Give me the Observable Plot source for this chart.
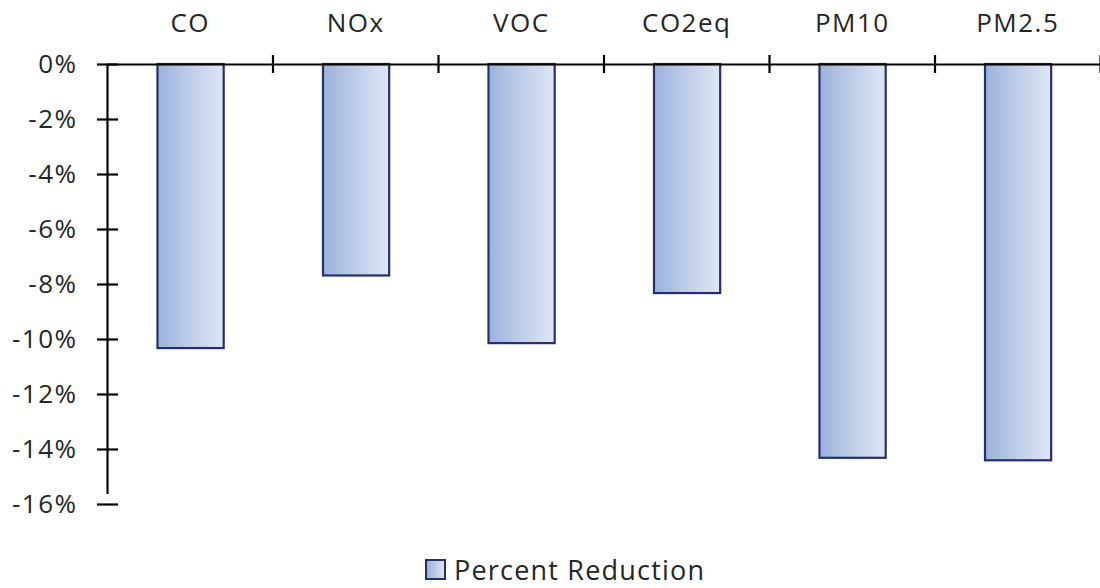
<!DOCTYPE html>
<html>
<head>
<meta charset="utf-8">
<script src="https://cdn.jsdelivr.net/npm/d3@7"></script>
<script src="https://cdn.jsdelivr.net/npm/@observablehq/plot@0.6"></script>
<style>
  html, body { margin: 0; padding: 0; background: #fff; }
  #wrap { width: 1100px; height: 588px; overflow: hidden; position: relative; font-family: "Open Sans", sans-serif; }
  #legend { position: absolute; left: 425px; top: 551px; display: flex; align-items: center; color: #262626; font-size: 27px; letter-spacing: 1.2px; }
  #legend .sw { width: 17px; height: 17px; border: 2px solid #262f6b; background: linear-gradient(to right, #9bb3dd, #dde5f4); margin-right: 8px; }
</style>
</head>
<body>
<div id="wrap">
  <div id="chart"></div>
  <div id="legend"><div class="sw"></div><span>Percent Reduction</span></div>
</div>
<script>
const categories = ["CO", "NOx", "VOC", "CO2eq", "PM10", "PM2.5"];
const values = [-10.33, -7.69, -10.15, -8.33, -14.32, -14.41];
const yTicks = [0, -2, -4, -6, -8, -10, -12, -14, -16];
const seriesName = "Percent Reduction";

const data = categories.map((c, i) => ({cat: c, i, value: values[i]}));
const boundaries = d3.range(0, categories.length + 1);

const chart = Plot.plot({
  width: 1100,
  height: 545,
  marginLeft: 107,
  marginRight: 0,
  marginTop: 64,
  marginBottom: 41,
  style: {fontFamily: "Open Sans, sans-serif", color: "#262626", background: "#fff"},
  x: {domain: [0, categories.length], axis: null},
  y: {domain: [-16, 0], axis: null},
  marks: [
    Plot.rectY(data, {
      x1: d => d.i + 0.305, x2: d => d.i + 0.705,
      y1: 0, y2: "value",
      fill: "url(#barGrad)", stroke: "#262f6b", strokeWidth: 2.2
    }),
    // y-axis line
    Plot.ruleX([0], {y1: -16, y2: 0, insetTop: -10, stroke: "#000", strokeWidth: 2.2}),
    // y ticks crossing axis
    Plot.ruleY(yTicks, {x1: 0, x2: 0, insetLeft: -10, insetRight: -11, stroke: "#000", strokeWidth: 2.2}),
    // zero line (x axis)
    Plot.ruleY([0], {stroke: "#000", strokeWidth: 2.2}),
    // category boundary ticks
    Plot.ruleX(boundaries.slice(1), {y1: 0, y2: 0, insetTop: -9, insetBottom: -9, stroke: "#000", strokeWidth: 2.2}),
    // y labels
    Plot.text(yTicks, {x: 0, y: d => d, text: d => d + "%", textAnchor: "end", dx: -30, fontSize: 26, fill: "#262626"}),
    // x labels
    Plot.text(data, {x: d => d.i + 0.5, y: 0, text: "cat", dy: -41, fontSize: 26, fill: "#262626"})
  ]
});

const svg = d3.select(chart);
const defs = svg.insert("defs", ":first-child");
const g = defs.append("linearGradient").attr("id", "barGrad").attr("x1", "0").attr("x2", "1").attr("y1", "0").attr("y2", "0");
g.append("stop").attr("offset", "0").attr("stop-color", "#9ab2dd");
g.append("stop").attr("offset", "0.45").attr("stop-color", "#bccbe8");
g.append("stop").attr("offset", "1").attr("stop-color", "#dfe6f4");
svg.selectAll("text").style("letter-spacing", "1.5px");

document.getElementById("chart").appendChild(chart);
document.querySelector("#legend span").textContent = seriesName;
</script>
</body>
</html>
